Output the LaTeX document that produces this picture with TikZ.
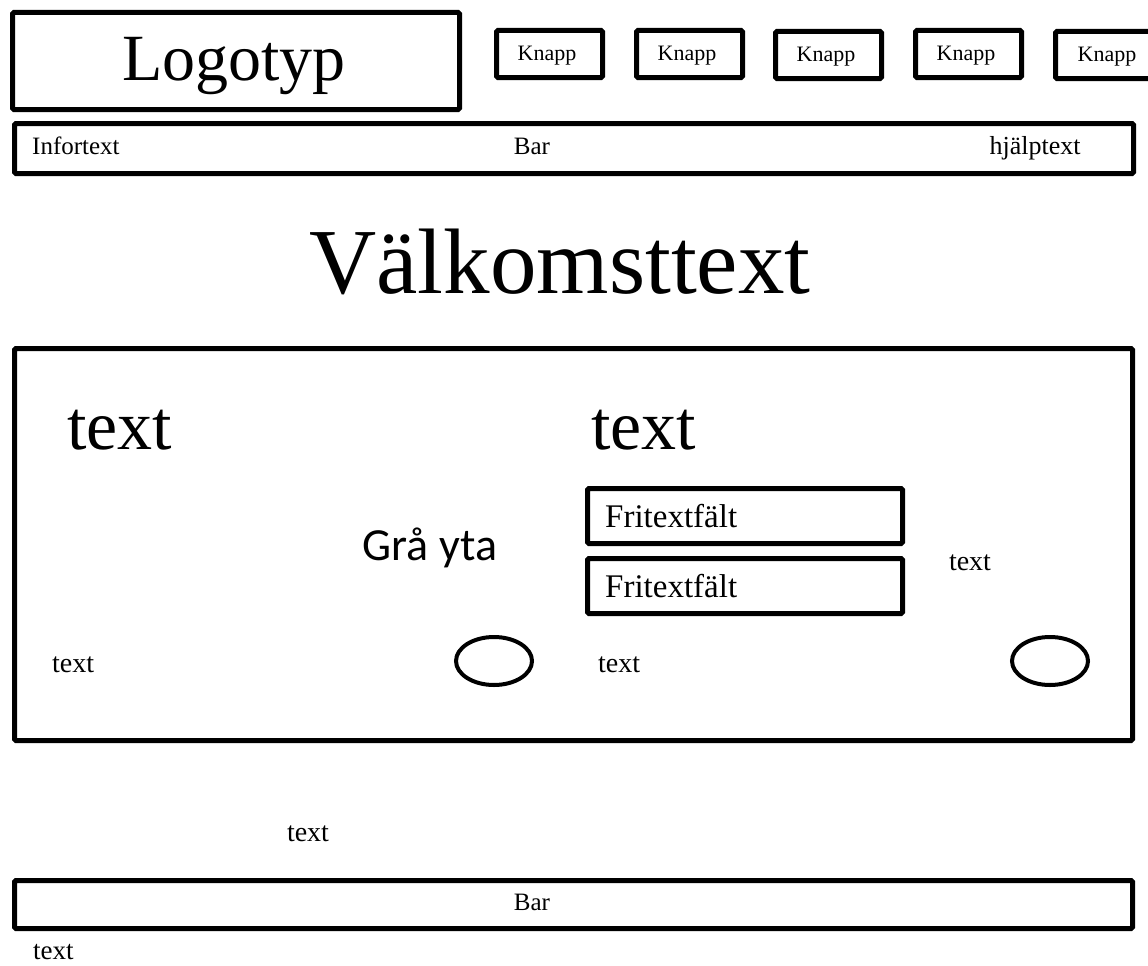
\documentclass[tikz,border=0pt]{standalone}
\usepackage{fontspec}
\setmainfont{Liberation Serif}
\newfontfamily\calib{Carlito}
\usetikzlibrary{shapes.geometric}
\newcommand{\fsz}[1]{\fontsize{#1}{#1}\selectfont}
\begin{document}
\begin{tikzpicture}[x=1pt,y=-1pt,
  box/.style={draw=black, line width=5pt, rounded corners=1.5pt, inner sep=0pt, anchor=north west},
  knappbox/.style={box, minimum width=106pt, minimum height=47pt},
  lbl/.style={inner sep=0pt, text=black, anchor=base},
  lblw/.style={lbl, anchor=base west},
  oval/.style={draw=black, line width=4pt, ellipse, minimum width=76pt, minimum height=48pt, inner sep=0pt}]
\clip (0,0) rectangle (1148,966);
\fill[white] (0,0) rectangle (1148,966);
% header
\node[box, minimum width=447pt, minimum height=97pt] (logo) at (10,10) {};
\node[lbl, font=\fsz{66}] (logot) at (234,81) {Logotyp};
\node[knappbox] (k1) at (494,28) {};
\node[knappbox] (k2) at (634,28) {};
\node[knappbox] (k3) at (773,29) {};
\node[knappbox] (k4) at (913,28) {};
\node[knappbox, minimum width=110pt] (k5) at (1053,29) {};
\node[lbl, font=\fsz{22}] (k1t) at (547,60) {Knapp};
\node[lbl, font=\fsz{22}] (k2t) at (687,60) {Knapp};
\node[lbl, font=\fsz{22}] (k3t) at (826,62) {Knapp};
\node[lbl, font=\fsz{22}] (k4t) at (966,60) {Knapp};
\node[lbl, font=\fsz{22}] (k5t) at (1107,62) {Knapp};
% top bar
\node[box, minimum width=1119pt, minimum height=50pt] (topbar) at (12,121) {};
\node[lbl, font=\fsz{25}] (bar1) at (532,154) {Bar};
\node[lblw, font=\fsz{25}] (info) at (32,154) {Infortext};
\node[lbl, font=\fsz{26}] (help) at (1035,154) {hjälptext};
% welcome
\node[lbl, font=\fsz{93}] (welcome) at (560,293) {Välkomsttext};
% main panel
\node[box, minimum width=1118pt, minimum height=392pt] (panel) at (12,346) {};
\node[lblw, font=\fsz{70}] (t1) at (67,449) {text};
\node[lblw, font=\fsz{70}] (t2) at (591,449) {text};
\node[lbl, font=\calib\fsz{46}] (gra) at (430,560) {Grå yta};
\node[box, minimum width=315pt, minimum height=55pt] (f1) at (585,486) {};
\node[lblw, font=\fsz{33}] (f1t) at (605,527) {Fritextfält};
\node[box, minimum width=315pt, minimum height=55pt] (f2) at (585,556) {};
\node[lblw, font=\fsz{33}] (f2t) at (605,597) {Fritextfält};
\node[lbl, font=\fsz{28}] (t3) at (970,570) {text};
\node[lblw, font=\fsz{28}] (t4) at (52,672) {text};
\node[lblw, font=\fsz{28}] (t5) at (598,672) {text};
\node[oval] (o1) at (494,661) {};
\node[oval] (o2) at (1050,661) {};
% footer
\node[lbl, font=\fsz{28}] (t6) at (308,841) {text};
\node[box, minimum width=1118pt, minimum height=48pt] (botbar) at (12,878) {};
\node[lbl, font=\fsz{25}] (bar2) at (532,910) {Bar};
\node[lblw, font=\fsz{27}] (t7) at (33,959) {text};
\end{tikzpicture}
\end{document}
